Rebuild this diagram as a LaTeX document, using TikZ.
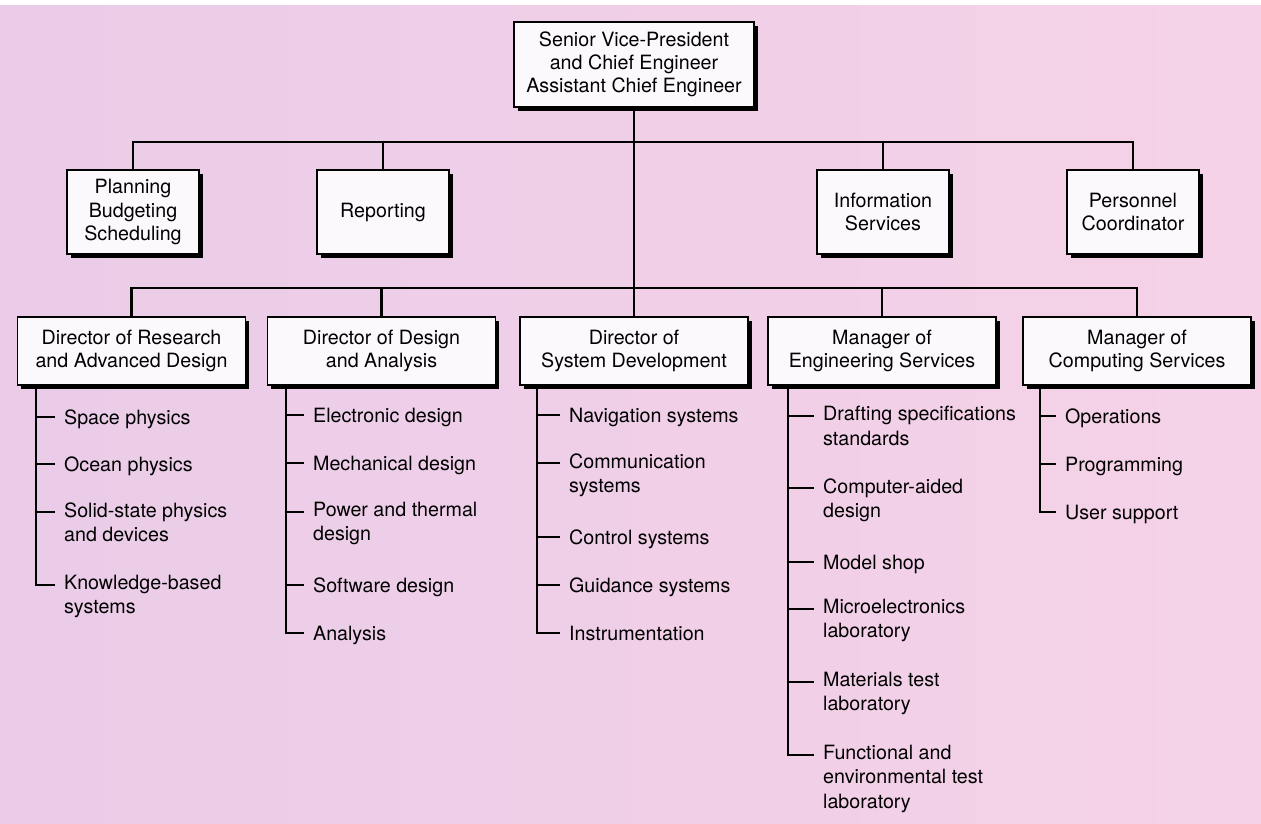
\documentclass[tikz,border=0pt]{standalone}
\usepackage{fontspec}
\setmainfont{TeX Gyre Heros}
\usetikzlibrary{shadows}
\definecolor{bgleft}{RGB}{234,204,232}
\definecolor{bgright}{RGB}{245,210,231}
\definecolor{boxfill}{RGB}{252,249,252}
\tikzset{
  unit/.style={draw, line width=1.1pt, fill=boxfill, align=center, inner sep=2pt,
    font=\fontsize{11.2}{13.2}\selectfont,
    drop shadow={shadow xshift=2.2pt, shadow yshift=-2.2pt, fill=black, opacity=1}},
  staff/.style={unit, minimum width=2.64cm, minimum height=1.68cm},
  head/.style={unit, minimum width=4.56cm, minimum height=1.36cm},
  duty/.style={anchor=north west, align=left, inner xsep=5pt, inner ysep=0pt,
    font=\fontsize{11.2}{13.8}\selectfont, execute at begin node=\strut},
  bar/.style={line width=1.3pt}
}
\begin{document}
\begin{tikzpicture}[x=0.02cm, y=-0.02cm]
\useasboundingbox (0,0) rectangle (1261,823);
\fill[white] (0,0) rectangle (1261,823);
\shade[left color=bgleft, right color=bgright] (0,5) rectangle (1261,823);

% top and staff
\node[unit, minimum width=4.8cm, minimum height=1.7cm] (vp) at (634,64.5)
  {Senior Vice-President\\and Chief Engineer\\Assistant Chief Engineer};
\node[staff] (pln) at (133,212) {Planning\\Budgeting\\Scheduling};
\node[staff] (rpt) at (383,212) {Reporting};
\node[staff] (inf) at (883,212) {Information\\Services};
\node[staff] (psn) at (1133,212) {Personnel\\Coordinator};

% directors and managers
\node[head] (res) at (131.5,351) {Director of Research\\and Advanced Design};
\node[head] (des) at (381.5,351) {Director of Design\\and Analysis};
\node[head] (sys) at (634,351) {Director of\\System Development};
\node[head] (eng) at (882,351) {Manager of\\Engineering Services};
\node[head] (cmp) at (1137,351) {Manager of\\Computing Services};

\coordinate (bus1) at (634,142);
\coordinate (bus2) at (634,288);
\draw[bar] (vp.south) -- (sys.north);
\draw[bar] (pln.north) |- (psn.north |- bus1) -- (psn.north);
\draw[bar] (rpt.north) -- (rpt.north |- bus1);
\draw[bar] (inf.north) -- (inf.north |- bus1);
\draw[bar] (res.north) |- (cmp.north |- bus2) -- (cmp.north);
\draw[bar] (des.north) -- (des.north |- bus2);
\draw[bar] (eng.north) -- (eng.north |- bus2);

% research
\coordinate (rt) at (36,385);
\node[duty] (r1) at (55,407) {Space physics};
\node[duty] (r2) at (55,454) {Ocean physics};
\node[duty] (r3) at (55,502) {Solid-state physics\\and devices};
\node[duty] (r4) at (55,575) {Knowledge-based\\systems};
\draw[bar] (rt) |- ([yshift=-5.6pt]r1.north west);
\draw[bar] (rt) |- ([yshift=-5.6pt]r2.north west);
\draw[bar] (rt) |- ([yshift=-5.6pt]r3.north west);
\draw[bar] (rt) |- ([yshift=-5.6pt]r4.north west);

% design
\coordinate (dt) at (286,385);
\node[duty] (d1) at (304,405) {Electronic design};
\node[duty] (d2) at (304,453) {Mechanical design};
\node[duty] (d3) at (304,502) {Power and thermal\\design};
\node[duty] (d4) at (304,575) {Software design};
\node[duty] (d5) at (304,623) {Analysis};
\draw[bar] (dt) |- ([yshift=-5.6pt]d1.north west);
\draw[bar] (dt) |- ([yshift=-5.6pt]d2.north west);
\draw[bar] (dt) |- ([yshift=-5.6pt]d3.north west);
\draw[bar] (dt) |- ([yshift=-5.6pt]d4.north west);
\draw[bar] (dt) |- ([yshift=-5.6pt]d5.north west);

% system development
\coordinate (st) at (537,385);
\node[duty] (s1) at (560,405) {Navigation systems};
\node[duty] (s2) at (560,453) {Communication\\systems};
\node[duty] (s3) at (560,527) {Control systems};
\node[duty] (s4) at (560,575) {Guidance systems};
\node[duty] (s5) at (560,623) {Instrumentation};
\draw[bar] (st) |- ([yshift=-5.6pt]s1.north west);
\draw[bar] (st) |- ([yshift=-5.6pt]s2.north west);
\draw[bar] (st) |- ([yshift=-5.6pt]s3.north west);
\draw[bar] (st) |- ([yshift=-5.6pt]s4.north west);
\draw[bar] (st) |- ([yshift=-5.6pt]s5.north west);

% engineering services
\coordinate (et) at (788,385);
\node[duty] (e1) at (814,406) {Drafting specifications\\standards};
\node[duty] (e2) at (814,478) {Computer-aided\\design};
\node[duty] (e3) at (814,552) {Model shop};
\node[duty] (e4) at (814,599) {Microelectronics\\laboratory};
\node[duty] (e5) at (814,672) {Materials test\\laboratory};
\node[duty] (e6) at (814,745) {Functional and\\environmental test\\laboratory};
\draw[bar] (et) |- ([yshift=-5.6pt]e1.north west);
\draw[bar] (et) |- ([yshift=-5.6pt]e2.north west);
\draw[bar] (et) |- ([yshift=-5.6pt]e3.north west);
\draw[bar] (et) |- ([yshift=-5.6pt]e4.north west);
\draw[bar] (et) |- ([yshift=-5.6pt]e5.north west);
\draw[bar] (et) |- ([yshift=-5.6pt]e6.north west);

% computing services
\coordinate (ct) at (1040,385);
\node[duty] (c1) at (1056,406) {Operations};
\node[duty] (c2) at (1056,454) {Programming};
\node[duty] (c3) at (1056,502) {User support};
\draw[bar] (ct) |- ([yshift=-5.6pt]c1.north west);
\draw[bar] (ct) |- ([yshift=-5.6pt]c2.north west);
\draw[bar] (ct) |- ([yshift=-5.6pt]c3.north west);
\end{tikzpicture}
\end{document}
